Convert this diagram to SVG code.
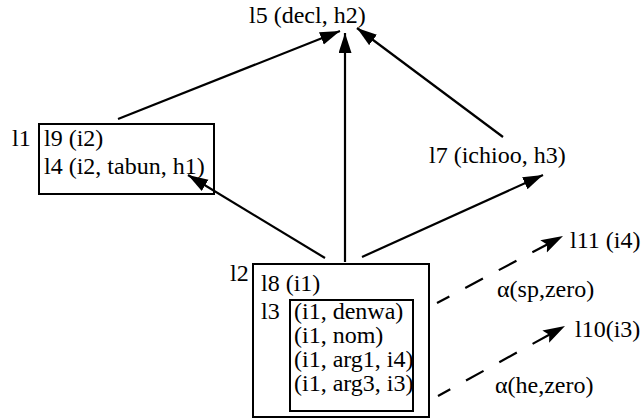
<svg xmlns="http://www.w3.org/2000/svg" width="641" height="419" viewBox="0 0 641 419">
<style>
text { font-family: "Liberation Serif", "Times New Roman", serif; font-size: 24px; fill: #000; }
.box { fill: none; stroke: #000; stroke-width: 2; }
.edge { fill: none; stroke: #000; stroke-width: 2.2; }
.dash { fill: none; stroke: #000; stroke-width: 2.2; stroke-dasharray: 20 18; stroke-dashoffset: 6; }
</style>
<defs>
<marker id="ah" markerUnits="userSpaceOnUse" markerWidth="22" markerHeight="14" refX="20" refY="6.5" orient="auto">
<path d="M0,0 L20,6.5 L0,13 z" fill="#000"/>
</marker>
<marker id="ahd" markerUnits="userSpaceOnUse" markerWidth="24" markerHeight="16" refX="22" refY="7" orient="auto">
<path d="M0,0 L22,7 L0,14 L4,7 z" fill="#000"/>
</marker>
</defs>
<g id="connectors">
<line class="edge" x1="118" y1="119" x2="340" y2="31" marker-end="url(#ah)"/>
<line class="edge" x1="345" y1="262" x2="345" y2="33" marker-end="url(#ah)"/>
<line class="edge" x1="503" y1="137" x2="357" y2="28" marker-end="url(#ah)"/>
<line class="edge" x1="325" y1="258" x2="188" y2="175" marker-end="url(#ah)"/>
<line class="edge" x1="362" y1="257" x2="543" y2="175" marker-end="url(#ah)"/>
<line class="dash" x1="437" y1="303" x2="563" y2="236" marker-end="url(#ahd)"/>
<line class="dash" x1="438" y1="396" x2="565" y2="326" marker-end="url(#ahd)"/>
<text x="497" y="297">α(sp,zero)</text>
<text x="495" y="393">α(he,zero)</text>
</g>
<g id="l5">
<text x="249" y="23">l5 (decl, h2)</text>
</g>
<g id="l1">
<text x="12" y="146">l1</text>
<rect class="box" x="39" y="124" width="175" height="70"/>
<text x="44" y="146">l9 (i2)</text>
<text x="44" y="174">l4 (i2, tabun, h1)</text>
</g>
<g id="l7">
<text x="429" y="163">l7 (ichioo, h3)</text>
</g>
<g id="l2">
<text x="230" y="281">l2</text>
<rect class="box" x="253" y="264" width="176" height="153"/>
<text x="261" y="291">l8 (i1)</text>
<text x="261" y="319">l3</text>
<g id="l3">
<rect class="box" x="290" y="300" width="123" height="111"/>
<text x="294" y="319">(i1, denwa)</text>
<text x="294" y="343">(i1, nom)</text>
<text x="294" y="367">(i1, arg1, i4)</text>
<text x="294" y="391">(i1, arg3, i3)</text>
</g>
</g>
<g id="l11">
<text x="570" y="248">l11 (i4)</text>
</g>
<g id="l10">
<text x="575" y="337">l10(i3)</text>
</g>
</svg>
